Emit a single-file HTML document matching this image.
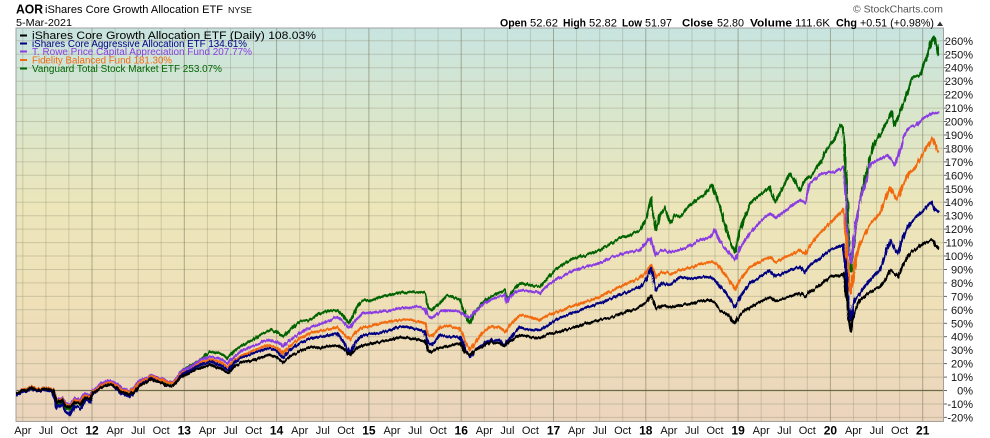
<!DOCTYPE html>
<html><head><meta charset="utf-8"><style>
html,body{margin:0;padding:0;background:#fff;width:990px;height:438px;overflow:hidden}
svg{display:block}
text{font-family:"Liberation Sans",Arial,sans-serif}
</style></head><body>
<svg width="990" height="438" viewBox="0 0 990 438" xmlns="http://www.w3.org/2000/svg">
<defs>
<linearGradient id="bg" x1="0" y1="0" x2="0" y2="1">
<stop offset="0" stop-color="#c8e4e0"/>
<stop offset="0.22" stop-color="#d9e6cc"/>
<stop offset="0.45" stop-color="#ece6ba"/>
<stop offset="0.7" stop-color="#efe0b8"/>
<stop offset="1" stop-color="#ebd4bc"/>
</linearGradient>
<filter id="jag" filterUnits="userSpaceOnUse" x="0" y="0" width="990" height="438">
<feTurbulence type="fractalNoise" baseFrequency="0.45 0.06" numOctaves="2" seed="7" result="noise"/>
<feDisplacementMap in="SourceGraphic" in2="noise" scale="4" xChannelSelector="R" yChannelSelector="G"/>
</filter>
</defs>
<rect x="0" y="0" width="990" height="438" fill="#fff"/>
<rect x="16" y="28" width="927.5" height="393.5" fill="url(#bg)"/>

<!-- horizontal grid -->
<g stroke="#8a8a70" stroke-opacity="0.35" stroke-width="1">
<line x1="16" x2="944" y1="40.8" y2="40.8"/><line x1="16" x2="944" y1="54.3" y2="54.3"/><line x1="16" x2="944" y1="67.7" y2="67.7"/><line x1="16" x2="944" y1="81.2" y2="81.2"/><line x1="16" x2="944" y1="94.6" y2="94.6"/><line x1="16" x2="944" y1="108.1" y2="108.1"/><line x1="16" x2="944" y1="121.5" y2="121.5"/><line x1="16" x2="944" y1="135" y2="135"/><line x1="16" x2="944" y1="148.4" y2="148.4"/><line x1="16" x2="944" y1="161.9" y2="161.9"/><line x1="16" x2="944" y1="175.3" y2="175.3"/><line x1="16" x2="944" y1="188.8" y2="188.8"/><line x1="16" x2="944" y1="202.2" y2="202.2"/><line x1="16" x2="944" y1="215.7" y2="215.7"/><line x1="16" x2="944" y1="229.1" y2="229.1"/><line x1="16" x2="944" y1="242.6" y2="242.6"/><line x1="16" x2="944" y1="256" y2="256"/><line x1="16" x2="944" y1="269.5" y2="269.5"/><line x1="16" x2="944" y1="282.9" y2="282.9"/><line x1="16" x2="944" y1="296.4" y2="296.4"/><line x1="16" x2="944" y1="309.8" y2="309.8"/><line x1="16" x2="944" y1="323.3" y2="323.3"/><line x1="16" x2="944" y1="336.7" y2="336.7"/><line x1="16" x2="944" y1="350.2" y2="350.2"/><line x1="16" x2="944" y1="363.6" y2="363.6"/><line x1="16" x2="944" y1="377.1" y2="377.1"/><line x1="16" x2="944" y1="404" y2="404"/><line x1="16" x2="944" y1="417.4" y2="417.4"/>
</g>
<!-- minor vertical grid -->
<g stroke="#8a8a70" stroke-opacity="0.32" stroke-width="1">
<line x1="22.8" x2="22.8" y1="28" y2="421.5"/><line x1="45.9" x2="45.9" y1="28" y2="421.5"/><line x1="68.9" x2="68.9" y1="28" y2="421.5"/>
<line x1="115.1" x2="115.1" y1="28" y2="421.5"/><line x1="138.2" x2="138.2" y1="28" y2="421.5"/><line x1="161.2" x2="161.2" y1="28" y2="421.5"/>
<line x1="207.4" x2="207.4" y1="28" y2="421.5"/><line x1="230.5" x2="230.5" y1="28" y2="421.5"/><line x1="253.5" x2="253.5" y1="28" y2="421.5"/>
<line x1="299.7" x2="299.7" y1="28" y2="421.5"/><line x1="322.8" x2="322.8" y1="28" y2="421.5"/><line x1="345.8" x2="345.8" y1="28" y2="421.5"/>
<line x1="392" x2="392" y1="28" y2="421.5"/><line x1="415.1" x2="415.1" y1="28" y2="421.5"/><line x1="438.1" x2="438.1" y1="28" y2="421.5"/>
<line x1="484.3" x2="484.3" y1="28" y2="421.5"/><line x1="507.4" x2="507.4" y1="28" y2="421.5"/><line x1="530.4" x2="530.4" y1="28" y2="421.5"/>
<line x1="576.6" x2="576.6" y1="28" y2="421.5"/><line x1="599.7" x2="599.7" y1="28" y2="421.5"/><line x1="622.7" x2="622.7" y1="28" y2="421.5"/>
<line x1="668.9" x2="668.9" y1="28" y2="421.5"/><line x1="692" x2="692" y1="28" y2="421.5"/><line x1="715" x2="715" y1="28" y2="421.5"/>
<line x1="761.2" x2="761.2" y1="28" y2="421.5"/><line x1="784.3" x2="784.3" y1="28" y2="421.5"/><line x1="807.3" x2="807.3" y1="28" y2="421.5"/>
<line x1="853.5" x2="853.5" y1="28" y2="421.5"/><line x1="876.6" x2="876.6" y1="28" y2="421.5"/><line x1="899.6" x2="899.6" y1="28" y2="421.5"/>
</g>
<!-- year grid -->
<g stroke="#77775a" stroke-opacity="0.55" stroke-width="1">
<line x1="92" x2="92" y1="28" y2="421.5"/><line x1="184.3" x2="184.3" y1="28" y2="421.5"/><line x1="276.6" x2="276.6" y1="28" y2="421.5"/><line x1="368.9" x2="368.9" y1="28" y2="421.5"/><line x1="461.2" x2="461.2" y1="28" y2="421.5"/><line x1="553.5" x2="553.5" y1="28" y2="421.5"/><line x1="645.8" x2="645.8" y1="28" y2="421.5"/><line x1="738.1" x2="738.1" y1="28" y2="421.5"/><line x1="830.4" x2="830.4" y1="28" y2="421.5"/><line x1="922.7" x2="922.7" y1="28" y2="421.5"/>
</g>
<line x1="16" x2="944" y1="390.5" y2="390.5" stroke="#6b6b4c" stroke-width="1.2"/>
<rect x="16" y="28" width="927.5" height="393.5" fill="none" stroke="#a0a0a0" stroke-width="1"/>

<!-- series -->
<g fill="none" stroke-width="2.5" stroke-linejoin="round" stroke-linecap="round" filter="url(#jag)">
<polyline stroke="#006400" points="17,393 25,389 32,387 40,389 48,388 53,391 57,405 62,401 66,408 70,410 75,402 80,405 85,397 90,399 93,391 100,386 110,381 120,389 130,394 140,381 150,376 160,379 168,384 173,383 180,372 190,366 200,360 210,352 220,353 228,358 235,350 243,345 255,338 262,334 270,330 277,332 283,337 290,330 300,322 310,320 320,313 330,311 337,310 345,318 350,323 356,308 363,300 370,301 380,297 390,295 400,293 410,292 420,292 425,294 428,308 432,310 440,303 447,295 455,298 460,300 465,315 470,323 475,312 482,303 490,297 500,292 505,290 507,300 512,292 520,283 530,285 540,287 548,277 555,270 565,263 575,258 585,255 600,250 610,244 620,238 630,235 640,230 646,220 651,198 654,220 656,230 660,215 665,207 670,223 675,215 680,217 690,205 700,197 705,195 712,185 716,195 720,207 728,235 735,252 740,230 750,203 760,195 770,187 775,203 780,193 790,173 800,190 805,180 810,177 820,163 825,152 835,138 840,125 843,128 845,155 847,200 849,250 851,271 853,250 856,225 860,200 865,178 870,158 875,142 882,132 892,112 895,125 900,112 908,92 912,78 920,75 927,55 933,37 935,42 937,48 938,55"/>
<polyline stroke="#8a3ee0" points="17,393 25,389 32,387 40,389 48,388 53,390 57,400 62,398 66,403 70,405 75,398 80,400 85,394 90,395 93,390 100,384 110,380 120,386 130,392 140,380 150,376 160,378 168,382 173,382 180,372 190,367 200,360 210,357 220,359 228,363 235,356 243,350 255,345 262,342 270,340 277,342 283,347 290,340 300,333 310,328 320,324 330,320 337,317 345,323 350,328 356,320 363,313 370,313 380,312 390,310 400,308 410,307 420,307 425,309 428,316 432,318 440,312 447,310 460,312 465,316 470,317 475,312 482,305 490,300 500,296 505,295 507,303 510,296 520,290 530,291 540,293 548,285 555,280 565,275 575,270 585,267 600,263 610,258 620,254 630,252 640,250 646,243 651,238 654,250 656,255 662,250 670,252 680,250 690,246 700,240 710,237 715,230 720,242 728,252 735,260 740,248 750,233 760,222 770,213 775,218 780,215 790,207 800,200 805,203 810,183 820,175 830,172 835,172 843,167 845,185 847,230 849,255 851,263 853,245 856,225 860,200 867,178 870,165 877,160 883,158 888,155 895,165 900,152 903,138 908,128 917,125 923,118 930,115 933,113 938,113"/>
<polyline stroke="#f26a10" points="17,393 25,389 32,387 40,389 48,388 53,390 57,402 62,399 66,404 70,407 75,400 80,402 85,396 90,397 93,391 100,386 110,382 120,388 130,393 140,382 150,377 160,379 168,383 173,383 180,374 190,370 200,363 210,360 220,362 228,367 235,360 243,355 255,350 262,347 270,345 277,348 283,353 290,346 300,338 310,333 320,331 330,329 337,327 345,335 350,340 356,332 363,327 370,326 380,323 390,322 400,320 410,320 420,322 425,323 428,335 432,336 440,327 447,326 460,328 465,342 470,350 475,343 482,333 490,327 500,328 505,332 510,325 520,315 530,317 540,320 548,315 555,313 565,309 575,305 585,302 600,297 610,292 620,287 630,282 640,278 646,272 651,265 654,272 656,277 662,272 670,274 680,270 690,268 700,264 710,262 715,263 720,267 728,278 735,290 740,280 750,267 760,262 770,257 775,262 780,260 790,255 800,250 805,255 810,245 820,233 830,223 838,215 843,210 845,225 847,260 849,282 851,293 853,275 856,258 860,243 870,225 880,213 885,200 890,187 897,200 903,185 910,172 915,168 920,158 925,150 930,142 933,138 936,146 938,152"/>
<polyline stroke="#000080" points="17,395 25,391 32,389 40,391 48,390 53,393 57,408 62,404 66,412 70,415 75,406 80,409 85,400 90,402 93,393 100,388 110,384 120,392 130,397 140,385 150,379 160,382 168,386 173,386 180,376 190,370 200,365 210,362 220,365 228,370 235,362 243,357 255,353 262,350 270,348 277,351 283,357 290,350 300,343 310,338 320,337 330,335 337,333 345,345 350,353 356,342 363,335 370,334 380,333 390,330 400,327 410,328 420,330 425,332 428,343 432,345 440,335 447,337 460,337 465,350 470,357 475,350 482,345 490,340 500,340 505,345 510,338 520,327 530,330 540,330 548,325 555,320 565,316 575,312 585,308 600,303 610,299 620,295 630,291 640,287 646,280 651,268 654,282 656,290 662,283 670,285 680,277 690,279 700,277 710,277 715,280 720,287 728,296 735,307 740,297 750,283 760,277 770,270 775,276 780,275 790,270 800,267 805,272 810,265 820,258 830,250 838,247 843,245 845,258 847,285 849,305 851,320 853,305 856,298 860,293 870,280 880,270 885,255 890,240 895,250 898,253 903,237 910,223 915,218 920,213 925,210 930,203 932,202 935,210 938,212"/>
<polyline stroke="#000000" points="17,393 25,390 32,388 40,390 48,389 53,391 57,403 62,400 66,406 70,408 75,402 80,404 85,398 90,399 93,392 100,388 110,384 120,390 130,395 140,386 150,380 160,382 168,386 173,386 180,378 190,372 200,368 210,365 220,368 228,373 235,366 243,362 255,360 262,357 270,355 277,357 283,362 290,356 300,351 310,347 320,348 330,346 337,345 345,350 350,355 356,349 363,345 370,344 380,342 390,340 400,337 410,338 420,340 425,341 428,350 432,352 438,348 445,347 452,345 460,343 465,352 470,355 475,350 482,347 490,342 500,343 505,346 510,341 520,335 530,337 540,338 548,334 555,333 565,330 575,327 585,324 600,320 610,318 620,314 630,311 640,307 646,303 651,295 654,304 656,310 662,305 670,307 680,305 690,304 700,301 710,300 715,303 720,310 728,315 735,323 740,315 750,307 760,302 770,297 775,301 780,300 790,296 800,293 805,297 810,292 820,285 830,277 838,276 843,273 845,282 847,300 849,320 851,331 853,318 856,310 860,300 870,292 880,287 885,280 890,270 895,274 898,277 903,265 910,253 915,250 920,246 925,243 930,241 933,240 935,245 938,248"/>
</g>

<!-- legend -->
<g stroke-width="2">
<line x1="20" x2="27" y1="35.5" y2="35.5" stroke="#000"/>
<line x1="20" x2="27" y1="43.5" y2="43.5" stroke="#000080"/>
<line x1="20" x2="27" y1="51.5" y2="51.5" stroke="#8a3ee0"/>
<line x1="20" x2="27" y1="60" y2="60" stroke="#f26a10"/>
<line x1="20" x2="27" y1="68.5" y2="68.5" stroke="#006400"/>
</g>
<text x="32" y="39" font-size="11" fill="#000" font-family="'DejaVu Sans',sans-serif" textLength="284" lengthAdjust="spacingAndGlyphs">iShares Core Growth Allocation ETF (Daily) 108.03%</text>
<text x="32" y="47" font-size="10" fill="#000080" textLength="215" lengthAdjust="spacingAndGlyphs">iShares Core Aggressive Allocation ETF 134.61%</text>
<text x="32" y="55" font-size="10" fill="#8a3ee0" textLength="220" lengthAdjust="spacingAndGlyphs">T. Rowe Price Capital Appreciation Fund 207.77%</text>
<text x="32" y="63.5" font-size="10" fill="#f26a10" textLength="140" lengthAdjust="spacingAndGlyphs">Fidelity Balanced Fund 181.30%</text>
<text x="32" y="72" font-size="10" fill="#006400" textLength="190" lengthAdjust="spacingAndGlyphs">Vanguard Total Stock Market ETF 253.07%</text>

<!-- header -->
<text x="16" y="13.5" font-size="12.5" font-weight="bold" fill="#000" textLength="27" lengthAdjust="spacingAndGlyphs">AOR</text>
<text x="45" y="13" font-size="11" fill="#000" textLength="178" lengthAdjust="spacingAndGlyphs">iShares Core Growth Allocation ETF</text>
<text x="228" y="13" font-size="8.5" fill="#000" font-family="'DejaVu Sans',sans-serif" textLength="24" lengthAdjust="spacingAndGlyphs">NYSE</text>
<text x="16" y="26" font-size="10.5" fill="#000" textLength="56" lengthAdjust="spacingAndGlyphs">5-Mar-2021</text>

<text x="853" y="12.5" font-size="10.5" fill="#555" textLength="90" lengthAdjust="spacingAndGlyphs">© StockCharts.com</text>
<g font-size="11" fill="#000">
<text x="500" y="26.5" font-weight="bold" textLength="27" lengthAdjust="spacingAndGlyphs">Open</text>
<text x="530" y="26.5" textLength="28" lengthAdjust="spacingAndGlyphs">52.62</text>
<text x="563" y="26.5" font-weight="bold" textLength="23" lengthAdjust="spacingAndGlyphs">High</text>
<text x="589" y="26.5" textLength="28" lengthAdjust="spacingAndGlyphs">52.82</text>
<text x="622" y="26.5" font-weight="bold" textLength="20" lengthAdjust="spacingAndGlyphs">Low</text>
<text x="645" y="26.5" textLength="27" lengthAdjust="spacingAndGlyphs">51.97</text>
<text x="682" y="26.5" font-weight="bold" textLength="31" lengthAdjust="spacingAndGlyphs">Close</text>
<text x="717" y="26.5" textLength="27" lengthAdjust="spacingAndGlyphs">52.80</text>
<text x="750" y="26.5" font-weight="bold" textLength="42" lengthAdjust="spacingAndGlyphs">Volume</text>
<text x="795" y="26.5" textLength="35" lengthAdjust="spacingAndGlyphs">111.6K</text>
<text x="836" y="26.5" font-weight="bold" textLength="21" lengthAdjust="spacingAndGlyphs">Chg</text>
<text x="860" y="26.5" textLength="74" lengthAdjust="spacingAndGlyphs">+0.51 (+0.98%)</text>
</g>
<polygon points="937,26 943,26 940,21.5" fill="#333"/>

<!-- right axis -->
<g stroke="#666" stroke-width="1">
<line x1="944" x2="947" y1="40.8" y2="40.8"/><line x1="944" x2="947" y1="54.3" y2="54.3"/><line x1="944" x2="947" y1="67.7" y2="67.7"/><line x1="944" x2="947" y1="81.2" y2="81.2"/><line x1="944" x2="947" y1="94.6" y2="94.6"/><line x1="944" x2="947" y1="108.1" y2="108.1"/><line x1="944" x2="947" y1="121.5" y2="121.5"/><line x1="944" x2="947" y1="135" y2="135"/><line x1="944" x2="947" y1="148.4" y2="148.4"/><line x1="944" x2="947" y1="161.9" y2="161.9"/><line x1="944" x2="947" y1="175.3" y2="175.3"/><line x1="944" x2="947" y1="188.8" y2="188.8"/><line x1="944" x2="947" y1="202.2" y2="202.2"/><line x1="944" x2="947" y1="215.7" y2="215.7"/><line x1="944" x2="947" y1="229.1" y2="229.1"/><line x1="944" x2="947" y1="242.6" y2="242.6"/><line x1="944" x2="947" y1="256" y2="256"/><line x1="944" x2="947" y1="269.5" y2="269.5"/><line x1="944" x2="947" y1="282.9" y2="282.9"/><line x1="944" x2="947" y1="296.4" y2="296.4"/><line x1="944" x2="947" y1="309.8" y2="309.8"/><line x1="944" x2="947" y1="323.3" y2="323.3"/><line x1="944" x2="947" y1="336.7" y2="336.7"/><line x1="944" x2="947" y1="350.2" y2="350.2"/><line x1="944" x2="947" y1="363.6" y2="363.6"/><line x1="944" x2="947" y1="377.1" y2="377.1"/><line x1="944" x2="947" y1="390.5" y2="390.5"/><line x1="944" x2="947" y1="404" y2="404"/><line x1="944" x2="947" y1="417.4" y2="417.4"/>
</g>
<g font-size="11" fill="#111" text-anchor="end">
<text x="973" y="44.8">260%</text><text x="973" y="58.3">250%</text><text x="973" y="71.7">240%</text><text x="973" y="85.2">230%</text><text x="973" y="98.6">220%</text><text x="973" y="112.1">210%</text><text x="973" y="125.5">200%</text><text x="973" y="139">190%</text><text x="973" y="152.4">180%</text><text x="973" y="165.9">170%</text><text x="973" y="179.3">160%</text><text x="973" y="192.8">150%</text><text x="973" y="206.2">140%</text><text x="973" y="219.7">130%</text><text x="973" y="233.1">120%</text><text x="973" y="246.6">110%</text><text x="973" y="260">100%</text><text x="973" y="273.5">90%</text><text x="973" y="286.9">80%</text><text x="973" y="300.4">70%</text><text x="973" y="313.8">60%</text><text x="973" y="327.3">50%</text><text x="973" y="340.7">40%</text><text x="973" y="354.2">30%</text><text x="973" y="367.6">20%</text><text x="973" y="381.1">10%</text><text x="973" y="394.5">0%</text><text x="973" y="408">-10%</text><text x="973" y="421.4">-20%</text>
</g>

<!-- bottom axis -->
<g font-size="11" fill="#111" text-anchor="middle">
<text x="22.8" y="434">Apr</text><text x="45.9" y="434">Jul</text><text x="68.9" y="434">Oct</text>
<text x="115.1" y="434">Apr</text><text x="138.2" y="434">Jul</text><text x="161.2" y="434">Oct</text>
<text x="207.4" y="434">Apr</text><text x="230.5" y="434">Jul</text><text x="253.5" y="434">Oct</text>
<text x="299.7" y="434">Apr</text><text x="322.8" y="434">Jul</text><text x="345.8" y="434">Oct</text>
<text x="392" y="434">Apr</text><text x="415.1" y="434">Jul</text><text x="438.1" y="434">Oct</text>
<text x="484.3" y="434">Apr</text><text x="507.4" y="434">Jul</text><text x="530.4" y="434">Oct</text>
<text x="576.6" y="434">Apr</text><text x="599.7" y="434">Jul</text><text x="622.7" y="434">Oct</text>
<text x="668.9" y="434">Apr</text><text x="692" y="434">Jul</text><text x="715" y="434">Oct</text>
<text x="761.2" y="434">Apr</text><text x="784.3" y="434">Jul</text><text x="807.3" y="434">Oct</text>
<text x="853.5" y="434">Apr</text><text x="876.6" y="434">Jul</text><text x="899.6" y="434">Oct</text>
</g>
<g font-size="12" font-weight="bold" fill="#000" text-anchor="middle">
<text x="92" y="434.5">12</text><text x="184.3" y="434.5">13</text><text x="276.6" y="434.5">14</text><text x="368.9" y="434.5">15</text><text x="461.2" y="434.5">16</text><text x="553.5" y="434.5">17</text><text x="645.8" y="434.5">18</text><text x="738.1" y="434.5">19</text><text x="830.4" y="434.5">20</text><text x="922.7" y="434.5">21</text>
</g>
</svg>
</body></html>
